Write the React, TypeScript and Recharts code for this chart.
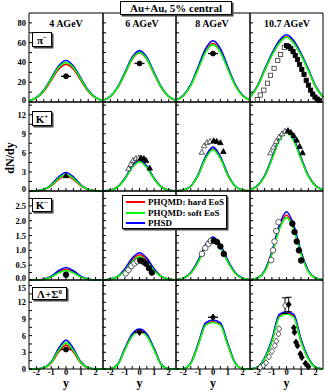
import React from "react";
import { ComposedChart, Line, Scatter, XAxis, YAxis, ErrorBar } from "recharts";

const RAP = [-2.5, -2, -1.5, -1, -0.5, 0, 0.5, 1, 1.5, 2, 2.5];
const ENERGIES = ["4 AGeV", "6 AGeV", "8 AGeV", "10.7 AGeV"];
const X_TICKS = [-2, -1.5, -1, -0.5, 0, 0.5, 1, 1.5, 2];

// pi- : one array per energy, values at RAP
const PI_HARD = [
  [1.2, 4.1, 10.9, 21.9, 33.1, 38, 33.1, 21.9, 10.9, 4.1, 1.2],
  [1.5, 5.4, 14.3, 28.5, 43.1, 49.5, 43.1, 28.5, 14.3, 5.4, 1.5],
  [1.8, 6.4, 17, 33.9, 51.3, 59, 51.3, 33.9, 17, 6.4, 1.8],
  [4.8, 15.5, 32, 47.5, 60, 66, 60, 47.5, 32, 15.5, 4.8],
];
const PI_SOFT = [
  [1.2, 4.4, 11.5, 23, 34.8, 40, 34.8, 23, 11.5, 4.4, 1.2],
  [1.6, 5.5, 14.4, 28.8, 43.5, 50, 43.5, 28.8, 14.4, 5.5, 1.6],
  [1.8, 6.3, 16.7, 33.4, 50.5, 58, 50.5, 33.4, 16.7, 6.3, 1.8],
  [4.7, 15.3, 31.7, 47.1, 59.5, 65.5, 59.5, 47.1, 31.7, 15.3, 4.7],
];
const PI_PHSD = [
  [1.3, 4.6, 12.1, 24.2, 36.5, 42, 36.5, 24.2, 12.1, 4.6, 1.3],
  [1.6, 5.7, 15, 29.9, 45.2, 52, 45.2, 29.9, 15, 5.7, 1.6],
  [1.9, 6.8, 17.9, 35.7, 53.9, 62, 53.9, 35.7, 17.9, 6.8, 1.9],
  [5, 16, 33, 49, 62, 68, 62, 49, 33, 16, 5],
];
const PI_FILLED = [
  [[0, 26]],
  [[0, 39]],
  [[0, 49]],
  [[0, 57], [0.15, 56], [0.3, 54], [0.45, 51], [0.6, 47], [0.75, 43], [0.9, 38], [1.05, 33], [1.2, 28], [1.35, 22], [1.5, 17], [1.65, 12], [1.8, 8], [1.95, 5], [2.1, 3], [2.25, 1.5]],
];
const PI_OPEN = [[], [], [], [[-0.15, 55], [-0.4, 48], [-0.6, 42], [-0.85, 34], [-1.1, 27], [-1.3, 19], [-1.55, 12], [-1.8, 7], [-2, 2.5]]];

// K+
const KP_HARD = [
  [0, 0.03, 0.21, 0.81, 1.83, 2.4, 1.83, 0.81, 0.21, 0.03, 0],
  [0.02, 0.13, 0.63, 1.93, 3.76, 4.7, 3.76, 1.93, 0.63, 0.13, 0.02],
  [0.02, 0.14, 0.75, 2.51, 5.19, 6.6, 5.19, 2.51, 0.75, 0.14, 0.02],
  [0.2, 0.8, 2.35, 5.07, 8.06, 9.4, 8.06, 5.07, 2.35, 0.8, 0.2],
];
const KP_SOFT = [
  [0, 0.03, 0.23, 0.88, 1.98, 2.6, 1.98, 0.88, 0.23, 0.03, 0],
  [0.02, 0.13, 0.62, 1.89, 3.68, 4.6, 3.68, 1.89, 0.62, 0.13, 0.02],
  [0.02, 0.14, 0.74, 2.48, 5.11, 6.5, 5.11, 2.48, 0.74, 0.14, 0.02],
  [0.19, 0.78, 2.3, 4.96, 7.88, 9.2, 7.88, 4.96, 2.3, 0.78, 0.19],
];
const KP_PHSD = [
  [0, 0.04, 0.26, 0.98, 2.21, 2.9, 2.21, 0.98, 0.26, 0.04, 0],
  [0.02, 0.14, 0.66, 2.01, 3.92, 4.9, 3.92, 2.01, 0.66, 0.14, 0.02],
  [0.02, 0.14, 0.79, 2.63, 5.42, 6.9, 5.42, 2.63, 0.79, 0.14, 0.02],
  [0.2, 0.82, 2.4, 5.17, 8.23, 9.6, 8.23, 5.17, 2.4, 0.82, 0.2],
];
const KP_FILLED = [
  [[0, 2.4]],
  [[0.1, 5.2], [0.3, 5.1], [0.45, 4.8], [0.7, 3.6]],
  [[0.05, 7.9], [0.25, 7.8], [0.5, 7.6], [0.7, 6.2]],
  [[0.1, 9.5], [0.3, 9.2], [0.5, 8.7], [0.7, 8], [0.9, 7], [1.1, 6]],
];
const KP_OPEN = [
  [],
  [[-0.75, 3.5], [-0.6, 4.2], [-0.45, 4.8], [-0.25, 5.1], [-0.05, 5.2]],
  [[-0.75, 6.1], [-0.6, 7.1], [-0.4, 7.6], [-0.2, 7.8]],
  [[-1.1, 6], [-0.9, 6.9], [-0.7, 7.8], [-0.5, 8.5], [-0.3, 9], [-0.1, 9.4]],
];

// K-
const KM_HARD = [
  [0, 0, 0.025, 0.11, 0.27, 0.36, 0.27, 0.11, 0.025, 0, 0],
  [0, 0.02, 0.11, 0.35, 0.68, 0.85, 0.68, 0.35, 0.11, 0.02, 0],
  [0.01, 0.06, 0.23, 0.62, 1.12, 1.36, 1.12, 0.62, 0.23, 0.06, 0.01],
  [0.01, 0.06, 0.3, 0.9, 1.75, 2.19, 1.75, 0.9, 0.3, 0.06, 0.01],
];
const KM_SOFT = [
  [0, 0, 0.02, 0.1, 0.24, 0.32, 0.24, 0.1, 0.02, 0, 0],
  [0, 0.02, 0.11, 0.32, 0.62, 0.78, 0.62, 0.32, 0.11, 0.02, 0],
  [0.01, 0.06, 0.23, 0.61, 1.09, 1.33, 1.09, 0.61, 0.23, 0.06, 0.01],
  [0.01, 0.06, 0.28, 0.87, 1.69, 2.11, 1.69, 0.87, 0.28, 0.06, 0.01],
];
const KM_PHSD = [
  [0, 0, 0.03, 0.13, 0.31, 0.42, 0.31, 0.13, 0.03, 0, 0],
  [0, 0.03, 0.12, 0.38, 0.74, 0.92, 0.74, 0.38, 0.12, 0.03, 0],
  [0.01, 0.06, 0.25, 0.66, 1.19, 1.45, 1.19, 0.66, 0.25, 0.06, 0.01],
  [0.01, 0.07, 0.31, 0.95, 1.84, 2.3, 1.84, 0.95, 0.31, 0.07, 0.01],
];
const KM_FILLED = [
  [[0, 0.18]],
  [[0.05, 0.66], [0.25, 0.62], [0.45, 0.55], [0.65, 0.4], [0.85, 0.25]],
  [[0.05, 1.32], [0.27, 1.28], [0.5, 1.13], [0.73, 0.88]],
  [[0.4, 1.9], [0.55, 1.62], [0.7, 1.3], [0.85, 1], [1, 0.66]],
];
const KM_OPEN = [
  [],
  [[-0.95, 0.22], [-0.75, 0.34], [-0.55, 0.47], [-0.35, 0.56], [-0.15, 0.63]],
  [[-0.75, 0.88], [-0.52, 1.08], [-0.3, 1.22], [-0.14, 1.32]],
  [[-1.05, 0.67], [-0.92, 1], [-0.82, 1.3], [-0.7, 1.65], [-0.55, 1.95]],
];

// Lambda + Sigma0
const LA_HARD = [
  [0, 0.02, 0.19, 1.08, 3.04, 4.3, 3.04, 1.08, 0.19, 0.02, 0],
  [0, 0.05, 0.78, 3.6, 6.15, 7, 6.15, 3.6, 0.78, 0.05, 0],
  [0, 0.05, 1.05, 4.4, 8, 8.5, 8, 4.4, 1.05, 0.05, 0],
  [0, 0.25, 1.85, 5, 9.5, 10, 9.5, 5, 1.85, 0.25, 0],
];
const LA_SOFT = [
  [0, 0.02, 0.21, 1.18, 3.32, 4.7, 3.32, 1.18, 0.21, 0.02, 0],
  [0, 0.05, 0.75, 3.45, 5.9, 6.7, 5.9, 3.45, 0.75, 0.05, 0],
  [0, 0.05, 1, 4.3, 7.9, 8.35, 7.9, 4.3, 1, 0.05, 0],
  [0, 0.25, 1.8, 4.9, 9.3, 9.9, 9.3, 4.9, 1.8, 0.25, 0],
];
const LA_PHSD = [
  [0, 0.02, 0.23, 1.3, 3.68, 5.2, 3.68, 1.3, 0.23, 0.02, 0],
  [0, 0.05, 0.8, 3.7, 6.3, 7.2, 6.3, 3.7, 0.8, 0.05, 0],
  [0, 0.05, 1.1, 4.6, 8.3, 8.8, 8.3, 4.6, 1.1, 0.05, 0],
  [0, 0.3, 2, 5.3, 9.8, 10.3, 9.8, 5.3, 2, 0.3, 0],
];
const LA_FILLED = [
  [[0, 3.5]],
  [[0, 6.6]],
  [[0, 9.3]],
  [[0.5, 7.4], [0.55, 6.6], [0.65, 4.8], [0.75, 4.2], [0.95, 2.7], [1.05, 2.1], [1.3, 1], [1.5, 0.4]],
];
const LA_OPEN = [[], [], [], [[-0.5, 7.2], [-0.55, 6.3], [-0.7, 5], [-0.8, 4.2], [-1, 3.2], [-1.2, 2.2], [-1.4, 1.1], [-1.6, 0.6], [-1.8, 0.3]]];
// midrapidity points at 10.7 AGeV with errors: [rap, val, err]
const LA_PEAK_OPEN = [[-0.1, 11.4, 1.4]];
const LA_PEAK_FILLED = [[0.15, 11.6, 1.3]];

const PI_TICKS = [0, 10, 20, 30, 40, 50, 60, 70, 80];
const KP_TICKS = [0, 1.5, 3, 4.5, 6, 7.5, 9, 10.5, 12, 13.5];
const KM_TICKS = [0, 0.25, 0.5, 0.75, 1, 1.25, 1.5, 1.75, 2, 2.25, 2.5, 2.75];
const LA_TICKS = [0, 1.5, 3, 4.5, 6, 7.5, 9, 10.5, 12, 13.5, 15];

const RED = "#ff0000";
const GREEN = "#00ff00";
const BLUE = "#0000ff";
const FONT = '"Liberation Serif", "Times New Roman", serif';

const COL_X = [29, 103, 176, 250];
const COL_W = [74, 73, 74, 73];
const ROW_Y = [13, 102, 191, 280];
const ROW_H = 89;

const ROWS = [
  { hard: PI_HARD, soft: PI_SOFT, phsd: PI_PHSD, filled: PI_FILLED, open: PI_OPEN, domain: [0, 90], ticks: PI_TICKS, fmt: (v: number) => (v % 20 === 0 ? String(v) : ""), kinds: ["circle", "circle", "circle", "square"], hbar: [true, true, true, false] },
  { hard: KP_HARD, soft: KP_SOFT, phsd: KP_PHSD, filled: KP_FILLED, open: KP_OPEN, domain: [0, 14], ticks: KP_TICKS, fmt: (v: number) => (v % 3 === 0 ? String(v) : ""), kinds: ["triangle", "triangle", "triangle", "triangle"], hbar: [false, false, false, false] },
  { hard: KM_HARD, soft: KM_SOFT, phsd: KM_PHSD, filled: KM_FILLED, open: KM_OPEN, domain: [0, 3], ticks: KM_TICKS, fmt: (v: number) => (Number.isInteger(v * 2) ? v.toFixed(1) : ""), kinds: ["circle", "circle", "circle", "circle"], hbar: [false, false, false, false] },
  { hard: LA_HARD, soft: LA_SOFT, phsd: LA_PHSD, filled: LA_FILLED, open: LA_OPEN, domain: [0, 16], ticks: LA_TICKS, fmt: (v: number) => (v % 3 === 0 ? String(v) : ""), kinds: ["circle", "diamond", "diamond", "diamond"], hbar: [true, true, true, false] },
];

function Marker(props: any) {
  const { cx, cy, kind, filled, hbar, size } = props;
  if (cx == null || cy == null) return null;
  const s = size;
  const fill = filled ? "#000" : "#fff";
  const stroke = filled ? "#000" : "#333";
  let body;
  if (kind === "square") body = <rect x={cx - s} y={cy - s} width={2 * s} height={2 * s} fill={fill} stroke={stroke} strokeWidth={0.8} />;
  else if (kind === "triangle")
    body = <polygon points={`${cx},${cy - s * 1.2} ${cx - s * 1.1},${cy + s * 0.8} ${cx + s * 1.1},${cy + s * 0.8}`} fill={fill} stroke={stroke} strokeWidth={0.8} />;
  else if (kind === "diamond")
    body = <polygon points={`${cx},${cy - s * 1.3} ${cx + s},${cy} ${cx},${cy + s * 1.3} ${cx - s},${cy}`} fill={fill} stroke={stroke} strokeWidth={0.8} />;
  else body = <circle cx={cx} cy={cy} r={s} fill={fill} stroke={stroke} strokeWidth={0.8} />;
  return (
    <g>
      {hbar && <line x1={cx - 5} x2={cx + 5} y1={cy} y2={cy} stroke="#000" strokeWidth={1.3} />}
      {body}
    </g>
  );
}

const toLine = (vals: number[]) => RAP.map((rap, i) => ({ rap, val: vals[i] }));
const toPts = (arr: number[][]) => arr.map(([rap, val, err]) => ({ rap, val, err }));

const tickStyle = { fontSize: 8.5, fontWeight: "bold", fill: "#000", fontFamily: FONT };

// y tick label; labels at the shared row edges are nudged apart a little
function YTick(props: any) {
  const { x, y, payload, row, show } = props;
  const v = payload.value;
  const text = show ? ROWS[row].fmt(v) : "";
  if (!text) return null;
  let nudge = 0;
  if (v === 0 && row < 3) nudge = -2;
  if (row === 3 && v === 15) nudge = 2;
  return (
    <text x={x} y={y + nudge} textAnchor="end" dominantBaseline="central" {...tickStyle}>
      {text}
    </text>
  );
}

function Panel({ r, c }: { r: number; c: number }) {
  const cfg = ROWS[r];
  const kind = cfg.kinds[c];
  const hbar = cfg.hbar[c];
  const size = kind === "circle" && r === 2 ? 2.8 : kind === "square" ? 2.1 : 2.5;
  const showY = c === 0;
  const showX = r === 3;
  return (
    <div style={{ position: "absolute", left: COL_X[c] - 24, top: ROW_Y[r] - 2 }}>
      <ComposedChart width={COL_W[c] + 26} height={ROW_H + 18} margin={{ top: 0, right: 0, left: 0, bottom: 0 }}>
        <XAxis xAxisId="b" type="number" dataKey="rap" domain={[-2.5, 2.5]} ticks={X_TICKS} interval={0} height={16}
          tickSize={-3} tickMargin={3} stroke="#000" tick={tickStyle}
          tickFormatter={(v: number) => (showX && Number.isInteger(v) ? String(v) : "")} />
        <XAxis xAxisId="t" orientation="top" type="number" dataKey="rap" domain={[-2.5, 2.5]} ticks={X_TICKS} interval={0}
          height={2} tickSize={-3} stroke="#000" tick={false} />
        <YAxis yAxisId="l" type="number" dataKey="val" domain={cfg.domain} ticks={cfg.ticks} interval={0} width={24}
          tickSize={-3} tickMargin={6} stroke="#000" tick={(p: any) => <YTick {...p} row={r} show={showY} />} />
        <YAxis yAxisId="r" orientation="right" type="number" domain={cfg.domain} ticks={cfg.ticks} interval={0} width={2}
          tickSize={-3} stroke="#000" tick={false} />
        <Line xAxisId="b" yAxisId="l" data={toLine(cfg.hard[c])} dataKey="val" type="monotone" stroke={RED} strokeWidth={1.6} dot={false} isAnimationActive={false} />
        <Line xAxisId="b" yAxisId="l" data={toLine(cfg.phsd[c])} dataKey="val" type="monotone" stroke={BLUE} strokeWidth={1.6} dot={false} isAnimationActive={false} />
        <Line xAxisId="b" yAxisId="l" data={toLine(cfg.soft[c])} dataKey="val" type="monotone" stroke={GREEN} strokeWidth={1.6} dot={false} isAnimationActive={false} />
        {cfg.open[c].length > 0 && (
          <Scatter xAxisId="b" yAxisId="l" data={toPts(cfg.open[c])} dataKey="val" isAnimationActive={false}
            shape={(p: any) => <Marker {...p} kind={kind} filled={false} hbar={hbar} size={size} />} />
        )}
        <Scatter xAxisId="b" yAxisId="l" data={toPts(cfg.filled[c])} dataKey="val" isAnimationActive={false}
          shape={(p: any) => <Marker {...p} kind={kind} filled hbar={hbar} size={size} />} />
        {r === 3 && c === 3 && (
          <Scatter xAxisId="b" yAxisId="l" data={toPts(LA_PEAK_OPEN)} dataKey="val" isAnimationActive={false}
            shape={(p: any) => <Marker {...p} kind="diamond" filled={false} size={size} />}>
            <ErrorBar dataKey="err" direction="y" width={3} stroke="#000" strokeWidth={1} />
          </Scatter>
        )}
        {r === 3 && c === 3 && (
          <Scatter xAxisId="b" yAxisId="l" data={toPts(LA_PEAK_FILLED)} dataKey="val" isAnimationActive={false}
            shape={(p: any) => <Marker {...p} kind="diamond" filled size={size} />}>
            <ErrorBar dataKey="err" direction="y" width={3} stroke="#000" strokeWidth={1} />
          </Scatter>
        )}
      </ComposedChart>
    </div>
  );
}

const boxStyle: React.CSSProperties = {
  position: "absolute",
  background: "#fff",
  border: "1px solid #000",
  boxShadow: "1.5px 1.5px 0 #444",
  boxSizing: "border-box",
  fontFamily: FONT,
  fontWeight: "bold",
  color: "#000",
  display: "flex",
  alignItems: "center",
  justifyContent: "center",
  whiteSpace: "nowrap",
};

const sup = { fontSize: 7, position: "relative" as const, top: -4 };

const PARTICLE_LABELS = [
  { top: 32, width: 20, height: 15, node: <span>π<span style={sup}>−</span></span> },
  { top: 111, width: 20, height: 15, node: <span>K<span style={sup}>+</span></span> },
  { top: 198, width: 20, height: 14, node: <span>K<span style={sup}>−</span></span> },
  { top: 287, width: 35, height: 13, node: <span>Λ+Σ<span style={sup}>0</span></span> },
];

const LEGEND = [
  { name: "PHQMD: hard EoS", color: RED },
  { name: "PHQMD: soft EoS", color: GREEN },
  { name: "PHSD", color: BLUE },
];

const ENERGY_X = [66, 142, 212, 287];

export default function App() {
  return (
    <div style={{ position: "absolute", left: 0, top: 0, width: 325, height: 391, background: "#fff", overflow: "hidden" }}>
      {ROWS.map((_, r) => COL_X.map((_, c) => <Panel key={`${r}-${c}`} r={r} c={c} />))}

      {ENERGIES.map((e, i) => (
        <div key={e} style={{ position: "absolute", left: ENERGY_X[i] - 30, width: 60, top: 18, textAlign: "center", fontFamily: FONT, fontWeight: "bold", fontSize: 10, lineHeight: "12px" }}>
          {e}
        </div>
      ))}

      <div style={{ ...boxStyle, left: 120, top: 1, width: 112, height: 14, fontSize: 11 }}>Au+Au, 5% central</div>

      {PARTICLE_LABELS.map((p, i) => (
        <div key={i} style={{ ...boxStyle, left: 32, top: p.top, width: p.width, height: p.height, fontSize: 11 }}>{p.node}</div>
      ))}

      <div style={{ ...boxStyle, left: 122, top: 195, width: 105, height: 34, display: "block" }}>
        {LEGEND.map((l, i) => (
          <div key={l.name} style={{ position: "absolute", left: 3, top: 1 + i * 10.5, height: 10, display: "flex", alignItems: "center", fontSize: 9 }}>
            <div style={{ width: 19, height: 2, background: l.color, marginRight: 3 }} />
            <span>{l.name}</span>
          </div>
        ))}
      </div>

      <div style={{ position: "absolute", left: 10, top: 158, transform: "translate(-50%, -50%) rotate(-90deg)", fontFamily: FONT, fontWeight: "bold", fontSize: 12, whiteSpace: "nowrap" }}>
        dN/dy
      </div>

      {COL_X.map((x, i) => (
        <div key={i} style={{ position: "absolute", left: x + COL_W[i] / 2 - 10, width: 20, top: 378, textAlign: "center", fontFamily: FONT, fontWeight: "bold", fontSize: 12, lineHeight: "11px" }}>
          y
        </div>
      ))}
    </div>
  );
}
